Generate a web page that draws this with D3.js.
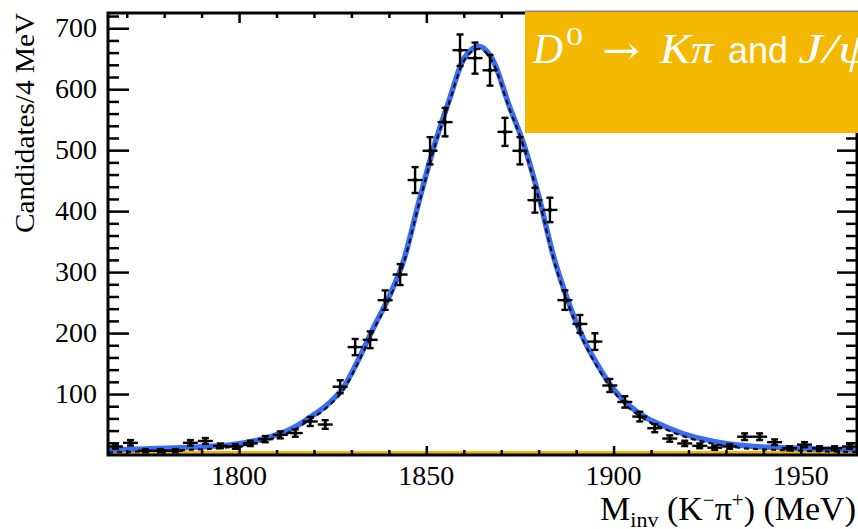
<!DOCTYPE html>
<html>
<head>
<meta charset="utf-8">
<script src="https://cdn.jsdelivr.net/npm/d3@7"></script>
<style>
  body { margin: 0; background: #fff; overflow: hidden; }
  svg { display: block; }
</style>
</head>
<body>
<svg id="svg" width="858" height="529"></svg>
<script>
/* globals d3 */

// bins: 4 MeV wide, centres from 1767 to 1963
var binCenters = [1767, 1771, 1775, 1779, 1783, 1787, 1791, 1795, 1799, 1803,
  1807, 1811, 1815, 1819, 1823, 1827, 1831, 1835, 1839, 1843,
  1847, 1851, 1855, 1859, 1863, 1867, 1871, 1875, 1879, 1883,
  1887, 1891, 1895, 1899, 1903, 1907, 1911, 1915, 1919, 1923,
  1927, 1931, 1935, 1939, 1943, 1947, 1951, 1955, 1959, 1963];
var counts = [14, 20, 7, 7, 7, 20, 23, 15, 14, 19,
  26, 33, 36, 55, 50, 112, 177, 189, 254, 296,
  451, 499, 546, 664, 651, 631, 530, 499, 418, 402,
  254, 215, 186, 114, 87, 63, 44, 27, 19, 15,
  12, 14, 30, 30, 21, 11, 17, 11, 11, 14];

// fit curves
var fitMass = [1765, 1775, 1785, 1792, 1798, 1804, 1809, 1814, 1819, 1824,
  1828, 1832, 1836, 1840, 1844, 1848, 1852, 1856, 1860, 1864,
  1868, 1872, 1876, 1880, 1884, 1888, 1892, 1896, 1900, 1904,
  1909, 1914, 1920, 1927, 1935, 1945, 1955, 1965];
var fitTotal = [8, 10, 12, 14, 17, 23, 31, 43, 62, 85,
  112, 158, 210, 259, 320, 415, 505, 580, 650, 670,
  645, 575, 510, 425, 325, 250, 190, 145, 108, 82,
  60, 46, 32, 22, 15, 12, 10, 9];
var fitSignal = [4, 6, 8, 10, 13, 19, 27, 39, 58, 81,
  108, 154, 206, 255, 316, 411, 501, 576, 646, 666,
  641, 571, 506, 421, 321, 246, 186, 141, 104, 78,
  56, 42, 28, 18, 11, 8, 6, 5];
var bkgMass = [1765, 1965];
var bkgValues = [4, 4];

var xMajor = [1800, 1850, 1900, 1950];
var xMinor = [1770, 1780, 1790, 1810, 1820, 1830, 1840, 1860, 1870, 1880,
  1890, 1910, 1920, 1930, 1940, 1960];
var yMajor = [100, 200, 300, 400, 500, 600, 700];
var yMinor = [20, 40, 60, 80, 120, 140, 160, 180, 220, 240, 260, 280,
  320, 340, 360, 380, 420, 440, 460, 480, 520, 540, 560, 580,
  620, 640, 660, 680, 720];

var PLOT = (function() {
  var plot = {};
  var svg = d3.select('#svg');
  var L = 108, R = 857, T = 13, B = 455;
  var serif = '"Liberation Serif", "Times New Roman", serif';

  var x = d3.scaleLinear().domain([1765, 1965]).range([L, R]);
  var y = d3.scaleLinear().domain([0, 725]).range([B, T]);

  function ticks(axis, pos, vals, size) {
    var g = svg.append('g')
      .attr('transform', pos)
      .call(axis.tickValues(vals).tickSize(size).tickFormat(''));
    g.select('.domain').remove();
    g.selectAll('line').attr('stroke', '#000').attr('stroke-width', 2.5);
    return g;
  }

  plot.axes = function() {
    ticks(d3.axisBottom(x), 'translate(0,' + B + ')', xMajor, -9);
    ticks(d3.axisBottom(x), 'translate(0,' + B + ')', xMinor, -5);
    ticks(d3.axisTop(x), 'translate(0,' + T + ')', xMajor, -10);
    ticks(d3.axisTop(x), 'translate(0,' + T + ')', xMinor, -5);
    ticks(d3.axisLeft(y), 'translate(' + L + ',0)', yMajor, -21);
    ticks(d3.axisLeft(y), 'translate(' + L + ',0)', yMinor, -11);
    ticks(d3.axisRight(y), 'translate(' + R + ',0)', yMajor, -20);
    ticks(d3.axisRight(y), 'translate(' + R + ',0)', yMinor, -11);

    svg.append('rect')
      .attr('x', L).attr('y', T)
      .attr('width', R - L).attr('height', B - T)
      .attr('fill', 'none').attr('stroke', '#000').attr('stroke-width', 3);

    svg.append('g').selectAll('text').data(xMajor).enter().append('text')
      .attr('x', function(d) { return x(d); })
      .attr('y', 485)
      .attr('text-anchor', 'middle')
      .attr('font-family', serif).attr('font-size', 28)
      .text(function(d) { return d; });

    svg.append('g').selectAll('text').data(yMajor).enter().append('text')
      .attr('x', 97)
      .attr('y', function(d) { return y(d) + 9; })
      .attr('text-anchor', 'end')
      .attr('font-family', serif).attr('font-size', 28)
      .text(function(d) { return d; });

    svg.append('text')
      .attr('transform', 'translate(34,123) rotate(-90)')
      .attr('text-anchor', 'middle')
      .attr('font-family', serif).attr('font-size', 28)
      .attr('textLength', 220).attr('lengthAdjust', 'spacingAndGlyphs')
      .text('Candidates/4 MeV');

    // x title: the subscript runs off the bottom, as in the original
    var xt = svg.append('text')
      .attr('x', 856).attr('y', 520)
      .attr('text-anchor', 'end')
      .attr('font-family', serif).attr('font-size', 34);
    xt.append('tspan').text('M');
    xt.append('tspan').attr('font-size', 22).attr('dy', 7).text('inv');
    xt.append('tspan').attr('dy', -7).text(' (K');
    xt.append('tspan').attr('font-size', 21).attr('dy', -13).text('\u2212');
    xt.append('tspan').attr('dy', 13).text('\u03c0');
    xt.append('tspan').attr('font-size', 21).attr('dy', -13).text('+');
    xt.append('tspan').attr('dy', 13).text(') (MeV)');
  }

  plot.curves = function() {
    var line = d3.line()
      .x(function(d) { return x(d[0]); })
      .y(function(d) { return y(d[1]); })
      .curve(d3.curveMonotoneX);

    svg.append('path')
      .attr('d', line(d3.zip(bkgMass, bkgValues)))
      .attr('fill', 'none').attr('stroke', '#f2b705').attr('stroke-width', 3);
    svg.append('path')
      .attr('d', line(d3.zip(fitMass, fitTotal)))
      .attr('fill', 'none').attr('stroke', '#3a6cf4').attr('stroke-width', 5.5);
    svg.append('path')
      .attr('d', line(d3.zip(fitMass, fitSignal)))
      .attr('fill', 'none').attr('stroke', '#111').attr('stroke-width', 2.2)
      .attr('stroke-dasharray', '5,4');
  }

  plot.points = function() {
    var pts = d3.zip(binCenters, counts);
    var g = svg.append('g').attr('stroke', '#000').attr('stroke-width', 2.4);
    var p = g.selectAll('g').data(pts).enter().append('g');

    p.append('line')
      .attr('x1', function(d) { return x(d[0] - 2); })
      .attr('x2', function(d) { return x(d[0] + 2); })
      .attr('y1', function(d) { return y(d[1]); })
      .attr('y2', function(d) { return y(d[1]); });
    p.append('line')
      .attr('x1', function(d) { return x(d[0]); })
      .attr('x2', function(d) { return x(d[0]); })
      .attr('y1', function(d) { return y(d[1] - Math.sqrt(d[1])); })
      .attr('y2', function(d) { return y(d[1] + Math.sqrt(d[1])); });
    // little caps on the vertical bars
    [-1, 1].forEach(function(s) {
      p.append('line')
        .attr('x1', function(d) { return x(d[0]) - 3.5; })
        .attr('x2', function(d) { return x(d[0]) + 3.5; })
        .attr('y1', function(d) { return y(d[1] + s * Math.sqrt(d[1])); })
        .attr('y2', function(d) { return y(d[1] + s * Math.sqrt(d[1])); });
    });
    p.append('circle')
      .attr('cx', function(d) { return x(d[0]); })
      .attr('cy', function(d) { return y(d[1]); })
      .attr('r', 2.2).attr('fill', '#000').attr('stroke', 'none');
  }

  plot.banner = function() {
    svg.append('line')
      .attr('x1', 525).attr('x2', 858).attr('y1', 10.5).attr('y2', 10.5)
      .attr('stroke', '#ccc').attr('stroke-width', 1);
    svg.append('rect')
      .attr('x', 525).attr('y', 12).attr('width', 340).attr('height', 121)
      .attr('fill', '#f5b800');

    var t = svg.append('g').attr('fill', '#fff');
    function piece(str, px, py, size, w, family, style) {
      return t.append('text').attr('x', px).attr('y', py)
        .attr('font-family', family || serif)
        .attr('font-style', style || 'normal')
        .attr('font-size', size)
        .attr('textLength', w).attr('lengthAdjust', 'spacingAndGlyphs')
        .text(str);
    }
    piece('D', 533, 63, 42, 30, serif, 'italic');
    piece('0', 566, 45, 26, 17);
    piece('\u2192', 602, 64, 40, 38, '"DejaVu Serif", serif');
    piece('K\u03c0', 660, 63, 42, 54, serif, 'italic');
    piece('and', 728, 63, 37, 60, '"Liberation Sans", Arial, sans-serif');
    piece('J/\u03c8', 798, 63, 42, 74, serif, 'italic');
  }

  plot.init = function() {
    plot.curves();
    plot.points();
    plot.axes();
    plot.banner();
  }

  return plot;
})();

PLOT.init();
</script>
</body>
</html>
